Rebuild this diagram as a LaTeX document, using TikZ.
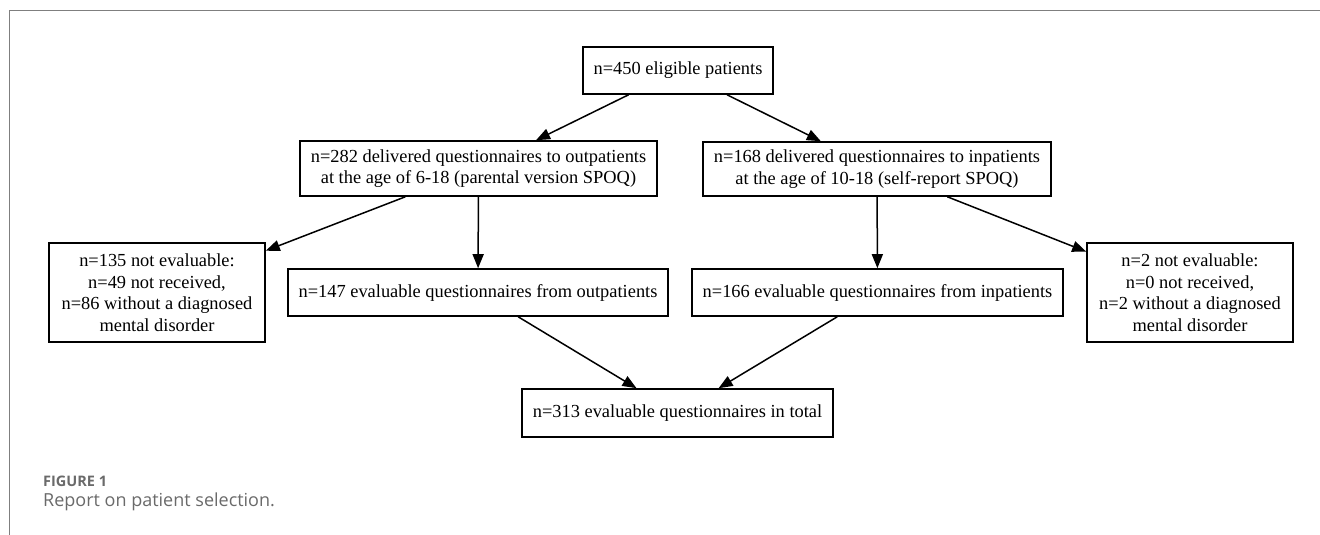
\documentclass[tikz,border=0pt]{standalone}
\usepackage{fontspec}
\setmainfont{Liberation Serif}
\newfontfamily\capfont{Open Sans}
\usetikzlibrary{arrows.meta}
\definecolor{framegray}{HTML}{7F7F7F}
\definecolor{capgray}{HTML}{6A6A6A}
\tikzset{
  box/.style={draw=black, line width=1.6pt, rectangle, inner sep=0pt, align=center,
    font=\fontsize{18.4}{21.5}\selectfont},
  arr/.style={draw=black, line width=1.5pt, -{Triangle[length=14pt,width=11pt]}},
  framestyle/.style={draw=framegray, line width=1.6pt},
}
\begin{document}
\begin{tikzpicture}[x=1pt,y=-1pt]
\useasboundingbox (0,0) rectangle (1320,535);
\draw[framestyle] (9.5,535) -- (9.5,10.5) -- (1320,10.5);

\node[box, minimum width=190pt, minimum height=47pt] (top) at (678,70.5) {n=450 eligible patients};
\node[box, minimum width=357pt, minimum height=55pt] (lmid) at (478.5,168.5) {n=282 delivered questionnaires to outpatients\\at the age of 6-18 (parental version SPOQ)};
\node[box, minimum width=348pt, minimum height=54pt] (rmid) at (877,169) {n=168 delivered questionnaires to inpatients\\at the age of 10-18 (self-report SPOQ)};
\node[box, minimum width=216pt, minimum height=99pt] (fl) at (157,292.5) {n=135 not evaluable:\\n=49 not received,\\n=86 without a diagnosed\\mental disorder};
\node[box, minimum width=206pt, minimum height=99pt] (fr) at (1190,292.5) {n=2 not evaluable:\\n=0 not received,\\n=2 without a diagnosed\\mental disorder};
\node[box, minimum width=380pt, minimum height=47pt] (out) at (478,292.5) {n=147 evaluable questionnaires from outpatients};
\node[box, minimum width=371pt, minimum height=47pt] (inp) at (877.5,292.5) {n=166 evaluable questionnaires from inpatients};
\node[box, minimum width=311pt, minimum height=48pt] (tot) at (677.5,413) {n=313 evaluable questionnaires in total};

\draw[arr] (top) -- (lmid);
\draw[arr] (top) -- (rmid);
\draw[arr] (lmid) -- (fl);
\draw[arr] (lmid) -- (out);
\draw[arr] (rmid) -- (inp);
\draw[arr] (rmid) -- (fr);
\draw[arr] (out) -- (tot);
\draw[arr] (inp) -- (tot);

\node[anchor=base west, inner sep=0pt, text=capgray, font=\capfont\fontsize{14.5}{16}\selectfont\bfseries] (figlabel) at (43,486.5) {FIGURE 1};
\node[anchor=base west, inner sep=0pt, text=capgray, font=\capfont\fontsize{18}{21}\selectfont] (figcap) at (43,506.5) {Report on patient selection.};
\end{tikzpicture}
\end{document}
